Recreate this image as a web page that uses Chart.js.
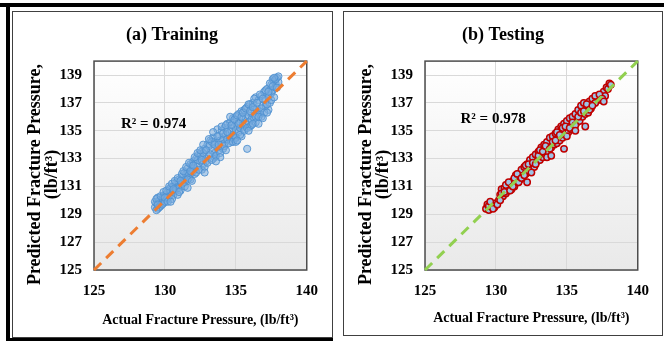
<!DOCTYPE html>
<html>
<head>
<meta charset="utf-8">
<script src="https://cdn.jsdelivr.net/npm/chart.js@4.4.1/dist/chart.umd.min.js"></script>
<style>
  body { margin: 0; background: #fff; width: 664px; height: 343px; overflow: hidden; position: relative; }
  .bar { position: absolute; background: #000; }
  .panel { position: absolute; border: 1.5px solid #404040; box-sizing: border-box; }
  canvas { position: absolute; }
</style>
</head>
<body>
<div class="bar" style="left:0;top:3px;width:664px;height:4px"></div>
<div class="bar" style="left:6px;top:3px;width:4px;height:338px"></div>
<div class="bar" style="left:6px;top:338px;width:327px;height:3px"></div>
<div class="panel" style="left:12px;top:11px;width:321px;height:327px"></div>
<div class="panel" style="left:343px;top:11px;width:320px;height:325px"></div>
<canvas id="trainChart" width="316" height="323" style="left:14px;top:13px"></canvas>
<canvas id="testChart" width="316" height="321" style="left:345px;top:13px"></canvas>
<script>
// Training set: actual vs predicted fracture pressure (lb/ft3)
var trainActual = [
  129.3,129.4,129.3,129.5,129.6,129.5,129.7,129.8,129.9,130.0,129.6,129.8,130.1,130.2,130.0,130.3,130.4,130.2,130.5,130.6,
  130.4,130.7,130.8,130.6,130.9,131.0,130.8,131.1,131.2,131.0,131.3,131.4,131.2,131.5,131.6,131.4,131.7,131.8,131.5,131.9,
  132.0,131.7,132.1,132.2,131.9,132.3,132.4,132.1,132.5,132.6,132.3,132.7,132.8,132.5,132.9,133.0,132.7,133.1,133.2,132.9,
  133.3,133.4,133.1,133.5,133.6,133.3,133.7,133.7,133.8,133.5,133.9,134.0,133.8,134.1,134.2,134.0,134.3,134.4,134.2,134.5,
  134.6,134.4,134.7,134.8,134.6,134.9,135.0,134.8,135.1,135.2,135.0,135.3,135.4,135.2,135.5,135.6,135.3,135.7,135.8,135.8,
  135.5,135.9,136.0,135.7,136.1,136.2,135.9,136.3,136.4,136.1,136.5,136.6,136.3,136.7,136.8,136.5,136.9,137.0,136.7,137.1,
  137.2,137.3,137.4,137.5,137.3,137.6,137.7,137.5,137.8,137.9,137.6,138.0,137.8,
  130.5,131.1,131.8,132.6,133.4,134.1,134.9,135.6,136.4,137.1,136.0,135.4,134.7,136.8,137.4,132.0,130.9,129.4,129.9,130.3,
  129.4,129.7,129.5,129.9,130.1,130.0,130.3,130.5,130.2,130.7,130.6,130.9,131.0,131.2,131.1,131.3,131.5,131.4,131.6,131.8,
  131.7,131.9,132.0,132.2,132.1,132.3,132.4,132.5,132.6,132.8,132.7,132.9,133.0,133.1,133.2,133.3,133.4,133.5,133.6,133.7,
  133.8,133.9,134.0,134.1,134.2,134.3,134.4,134.5,134.6,134.7,134.8,134.9,135.0,135.1,135.2,135.3,135.4,135.5,135.6,135.7,
  135.8,135.9,136.0,136.1,136.2,136.3,136.4,136.5,136.6,136.7,136.8,136.9,137.0,137.1,137.2,137.3,137.4,137.5,137.6,137.7,
  137.8,137.9,138.0,137.7,136.2,135.0,133.9,132.8,131.6,130.4,136.9,137.2,136.6,135.9,135.1,134.3,133.6
];
var trainPredicted = [
  129.5,129.8,129.9,129.4,130.0,130.2,129.6,130.1,129.8,130.4,129.5,129.7,130.0,130.6,129.9,130.3,130.9,130.2,130.5,131.0,
  130.6,130.7,131.3,130.4,131.0,131.5,130.8,131.1,131.7,130.9,131.4,132.0,131.2,131.6,132.3,131.3,131.9,132.6,131.9,132.0,
  132.8,131.6,132.3,133.0,132.5,132.4,133.3,131.9,132.8,133.5,132.9,132.6,133.7,133.2,133.0,134.0,133.4,133.2,134.3,132.8,
  133.6,134.5,133.9,133.4,134.1,134.2,135.1,133.8,134.6,133.1,134.3,135.0,133.6,134.4,135.2,134.0,134.7,135.5,134.1,134.8,
  135.6,134.4,135.0,135.9,134.5,135.3,136.0,134.7,135.4,136.2,135.1,135.6,136.4,134.9,135.8,136.5,135.2,135.9,133.7,136.7,
  135.4,136.1,136.9,135.5,136.3,137.0,135.6,136.5,137.4,135.8,136.6,137.2,135.9,136.4,137.5,136.1,136.8,137.8,136.2,137.2,
  138.0,136.5,137.6,138.3,137.4,137.9,138.6,137.7,138.4,138.8,138.7,138.5,138.1,
  130.1,130.7,131.5,132.2,133.0,133.7,134.4,135.1,136.0,136.8,135.3,134.6,134.2,136.0,137.0,132.1,130.4,129.3,130.3,130.8,
  130.1,130.3,129.7,130.6,130.7,130.2,131.0,131.2,129.9,131.4,130.8,131.6,130.6,131.9,131.4,132.1,132.4,131.0,131.5,132.1,
  132.7,131.4,132.5,132.0,133.1,133.4,132.2,133.6,132.9,132.4,134.0,133.6,132.7,134.4,133.3,132.9,134.9,134.0,133.2,134.6,
  134.0,133.4,135.3,134.8,133.9,135.4,134.9,134.1,136.0,135.4,134.2,135.8,134.5,136.1,135.5,134.7,136.0,136.3,135.0,136.6,
  135.2,136.9,136.4,135.4,136.7,137.3,135.6,137.0,136.0,137.6,136.6,137.3,136.3,137.9,136.9,137.8,138.4,137.2,138.2,137.4,
  138.7,138.1,138.9,138.8,135.5,134.2,133.1,132.0,130.9,129.9,135.9,136.3,135.5,135.0,134.3,133.6,132.8
];

// Testing set
var testActual = [
  129.3,129.4,129.5,129.7,129.9,130.0,130.2,130.3,130.4,130.5,130.6,130.7,130.8,130.9,131.0,131.1,131.2,131.3,131.4,131.5,
  131.6,131.7,131.8,131.9,132.0,132.1,132.2,132.3,132.4,132.5,132.6,132.7,132.8,132.9,133.0,133.1,133.2,133.3,133.4,133.5,
  133.6,133.7,133.8,133.9,134.0,134.1,134.2,134.3,134.4,134.5,134.6,134.7,134.8,134.9,135.0,135.1,135.2,135.3,135.4,135.5,
  135.6,135.7,135.8,135.9,136.0,136.1,136.2,136.3,136.4,136.5,136.6,136.7,136.8,137.0,137.2,137.4,137.6,137.8,138.0,137.7,
  132.2,134.8,136.3,
  129.5,129.6,129.8,130.1,130.3,130.4,130.6,130.7,130.9,131.0,131.2,131.3,131.5,131.6,131.8,132.0,132.1,132.3,132.5,132.6,
  132.8,133.0,133.1,133.3,133.5,133.6,133.8,134.0,134.2,134.3,134.5,134.7,134.9,135.0,135.2,135.4,135.6,135.8,136.0,136.2,
  136.4,136.6,136.8,137.0,137.3,137.5,137.9,138.1,137.6,133.9,135.6
];
var testPredicted = [
  129.4,129.7,129.3,129.6,129.5,129.8,130.0,130.4,130.8,130.3,130.9,130.5,131.1,130.7,131.2,130.8,131.4,131.0,131.8,131.3,
  131.9,131.5,132.2,131.7,132.4,131.9,132.6,132.1,132.9,132.3,133.1,132.4,133.3,132.8,133.5,132.9,133.8,133.1,134.0,133.3,
  134.2,133.4,134.5,133.8,134.6,134.0,134.8,134.1,135.1,134.3,135.3,134.5,135.5,134.8,135.7,134.9,135.9,135.1,136.0,135.3,
  136.2,135.6,136.5,135.7,136.8,136.0,137.0,136.2,136.6,136.3,137.1,136.6,137.3,137.0,137.5,137.2,137.8,138.1,138.4,137.5,
  131.3,133.7,135.3,
  129.6,129.9,129.4,129.7,130.0,130.5,130.6,131.1,131.3,130.7,131.0,131.6,131.9,131.3,131.6,131.8,132.5,132.6,132.0,132.7,
  132.6,133.2,133.6,133.5,133.9,133.1,133.7,134.2,134.3,134.9,134.7,135.2,135.3,134.6,135.2,135.6,135.4,136.0,136.3,136.4,
  136.9,136.5,136.8,137.5,137.6,137.3,138.0,138.3,137.1,133.2,135.0
];

// 1:1 reference line and axis settings
var fitLine = [125, 140];
var axisMin = 125;
var axisMax = 140;
var yTickValues = [125, 127, 129, 131, 133, 135, 137, 139];
var xStep = 5;

function toPoints(xs, ys) {
  return xs.map(function (x, i) { return { x: x, y: ys[i] }; });
}

var serif = "'Liberation Serif', 'Times New Roman', serif";
var nb = '\u00a0\u00a0\u00a0\u00a0';

// plot area gradient, frame and R² label
var plotFrame = {
  id: 'plotFrame',
  beforeDraw: function (chart) {
    var ctx = chart.ctx, a = chart.chartArea;
    var g = ctx.createLinearGradient(0, a.top, 0, a.bottom);
    g.addColorStop(0, '#ffffff');
    g.addColorStop(1, '#e9e9e9');
    ctx.save();
    ctx.fillStyle = g;
    ctx.fillRect(a.left, a.top, a.right - a.left, a.bottom - a.top);
    ctx.restore();
  },
  beforeDatasetsDraw: function (chart) {
    var ctx = chart.ctx, a = chart.chartArea;
    ctx.save();
    ctx.strokeStyle = '#4d4d4d';
    ctx.lineWidth = 1.5;
    ctx.strokeRect(a.left, a.top, a.right - a.left, a.bottom - a.top);
    ctx.restore();
  },
  afterDatasetsDraw: function (chart, args, opts) {
    var ctx = chart.ctx;
    var px = chart.scales.x.getPixelForValue(opts.at[0]);
    var py = chart.scales.y.getPixelForValue(opts.at[1]);
    ctx.save();
    ctx.font = 'bold 15px ' + serif;
    ctx.fillStyle = '#000';
    ctx.textAlign = 'center';
    ctx.textBaseline = 'middle';
    ctx.fillText(opts.label, px, py);
    ctx.restore();
  }
};

function makeChart(id, title, xs, ys, pointStyle, lineColor, r2, r2At) {
  return new Chart(document.getElementById(id), {
    type: 'scatter',
    plugins: [plotFrame],
    data: {
      datasets: [{
        type: 'line',
        data: toPoints(fitLine, fitLine),
        borderColor: lineColor,
        borderWidth: 3,
        borderDash: [10, 7],
        pointRadius: 0,
        clip: false,
        order: 0
      }, Object.assign({
        data: toPoints(xs, ys),
        order: 1
      }, pointStyle)]
    },
    options: {
      responsive: false,
      animation: false,
      layout: { padding: { left: 0, right: 18, top: 0, bottom: 0 } },
      plugins: {
        legend: { display: false },
        tooltip: { enabled: false },
        title: {
          display: true,
          text: nb + title,
          color: '#000',
          font: { family: serif, size: 18, weight: 'bold', lineHeight: 1.2 },
          padding: { top: 12, bottom: 14.5 }
        },
        plotFrame: { label: r2, at: r2At }
      },
      scales: {
        x: {
          type: 'linear',
          min: axisMin,
          max: axisMax,
          afterFit: function (s) { s.height = s.chart.height - 257; },
          border: { display: false },
          grid: { color: '#d9d9d9', lineWidth: 1, drawTicks: false },
          ticks: {
            stepSize: xStep,
            padding: 12,
            color: '#000',
            font: { family: serif, size: 15, weight: 'bold' }
          },
          title: {
            display: true,
            text: 'Actual Fracture Pressure, (lb/ft\u00b3)',
            color: '#000',
            font: { family: serif, size: 14, weight: 'bold', lineHeight: 1.2 },
            padding: { top: 0, bottom: 7.6 }
          }
        },
        y: {
          type: 'linear',
          min: axisMin,
          max: axisMax,
          afterFit: function (s) { s.width = 80; },
          afterBuildTicks: function (s) {
            s.ticks = yTickValues.map(function (v) { return { value: v }; });
          },
          border: { display: false },
          grid: { color: '#d9d9d9', lineWidth: 1, drawTicks: false },
          ticks: {
            padding: 12,
            color: '#000',
            font: { family: serif, size: 15, weight: 'bold' }
          },
          title: {
            display: true,
            text: ['Predicted Fracture Pressure,' + nb, '(lb/ft\u00b3)' + nb],
            color: '#000',
            font: { family: serif, size: 18, weight: 'bold', lineHeight: 0.95 },
            padding: { top: 12.5, bottom: 0 }
          }
        }
      }
    }
  });
}

makeChart('trainChart', '(a) Training', trainActual, trainPredicted, {
  pointRadius: 3.6,
  pointBackgroundColor: 'rgba(120, 172, 222, 0.55)',
  pointBorderColor: 'rgba(80, 145, 208, 0.9)',
  pointBorderWidth: 1
}, '#ED7D31', 'R\u00b2 = 0.974', [129.2, 135.5]);

makeChart('testChart', '(b) Testing', testActual, testPredicted, {
  pointRadius: 3.2,
  pointBackgroundColor: '#9DC3E6',
  pointBorderColor: '#C00000',
  pointBorderWidth: 1.5
}, '#92D050', 'R\u00b2 = 0.978', [129.8, 135.8]);
</script>
</body>
</html>
